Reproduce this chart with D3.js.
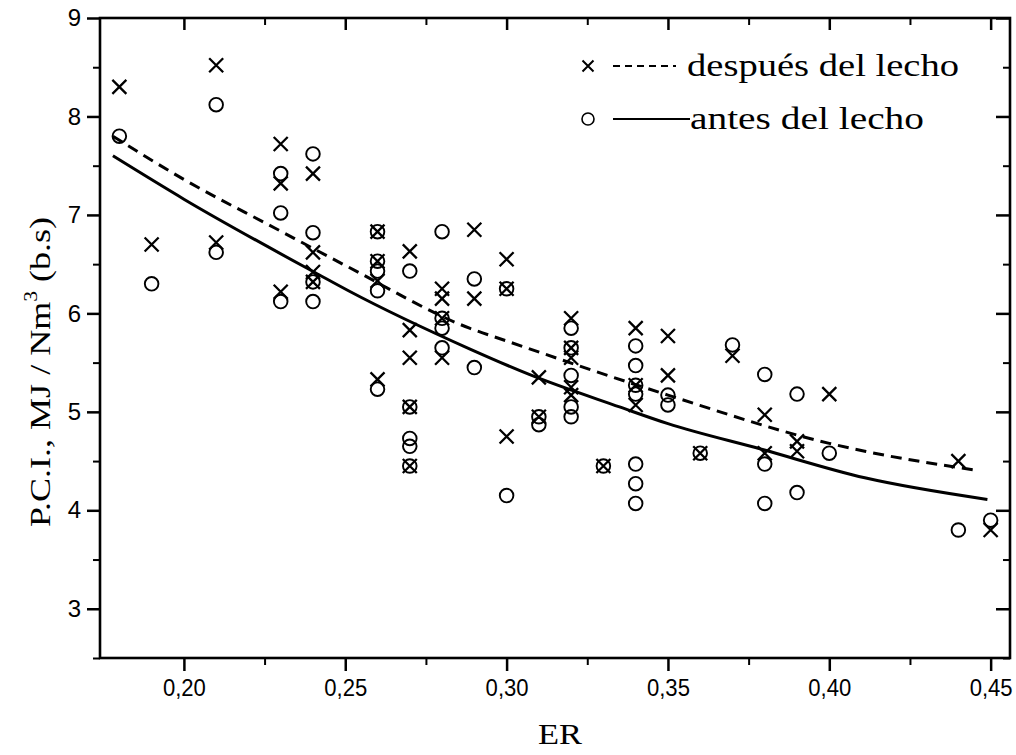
<!DOCTYPE html>
<html><head><meta charset="utf-8">
<script src="https://cdn.jsdelivr.net/npm/d3@7"></script>
<style>body{margin:0;background:#fff}svg{display:block}</style>
</head><body>
<svg id="chart" width="1016" height="755"></svg>
<script>
// ---- data ----
const xDespues = [0.18,0.19,0.21,0.21,0.23,0.23,0.23,0.24,0.24,0.24,0.24,0.26,0.26,0.26,0.26,0.27,0.27,0.27,0.27,0.27,0.28,0.28,0.28,0.28,0.29,0.29,0.30,0.30,0.30,0.31,0.31,0.32,0.32,0.32,0.32,0.32,0.33,0.34,0.34,0.34,0.35,0.35,0.36,0.37,0.38,0.38,0.39,0.39,0.40,0.44,0.45];
const yDespues = [8.30,6.70,8.52,6.72,7.72,7.32,6.22,7.42,6.62,6.42,6.32,6.83,6.53,6.33,5.33,6.63,5.83,5.55,5.05,4.45,6.25,6.15,5.95,5.55,6.85,6.15,6.55,6.25,4.75,5.35,4.95,5.95,5.65,5.55,5.25,5.17,4.45,5.85,5.27,5.07,5.77,5.37,4.58,5.57,4.97,4.58,4.70,4.60,5.18,4.50,3.80];
const xAntes = [0.18,0.19,0.21,0.21,0.23,0.23,0.23,0.24,0.24,0.24,0.24,0.26,0.26,0.26,0.26,0.26,0.27,0.27,0.27,0.27,0.27,0.28,0.28,0.28,0.28,0.29,0.29,0.30,0.30,0.31,0.31,0.32,0.32,0.32,0.32,0.32,0.33,0.34,0.34,0.34,0.34,0.34,0.34,0.34,0.35,0.35,0.36,0.37,0.38,0.38,0.38,0.39,0.39,0.40,0.44,0.45];
const yAntes = [7.80,6.30,8.12,6.62,7.42,7.02,6.12,7.62,6.82,6.32,6.12,6.83,6.53,6.43,6.23,5.23,6.43,5.05,4.73,4.65,4.45,6.83,5.95,5.85,5.65,6.35,5.45,6.25,4.15,4.95,4.87,5.85,5.65,5.37,5.05,4.95,4.45,5.67,5.47,5.27,5.18,4.47,4.27,4.07,5.17,5.07,4.58,5.68,5.38,4.47,4.07,5.18,4.18,4.58,3.80,3.90];
// fitted curves as drawn
const fitDespuesX = [0.178,0.20,0.228,0.251,0.2885,0.30,0.35,0.40,0.411,0.445];
const fitDespuesY = [7.80,7.36,6.87,6.47,5.85,5.72,5.17,4.68,4.60,4.41];
const fitAntesX = [0.178,0.20,0.242,0.251,0.2885,0.307,0.335,0.35,0.379,0.411,0.449];
const fitAntesY = [7.60,7.16,6.39,6.23,5.64,5.38,5.05,4.88,4.62,4.33,4.11];
const xMajor = [0.20,0.25,0.30,0.35,0.40,0.45];
const xMinor = [0.225,0.275,0.325,0.375,0.425];
const yMajor = [3,4,5,6,7,8,9];
const yMinor = [2.5,3.5,4.5,5.5,6.5,7.5,8.5];
const legendLabels = ["después del lecho","antes del lecho"];
const xTitle = "ER";

// ---- drawing ----
const svg = d3.select("#chart");
const L=100, R=1010, T=18, B=658;
const x = d3.scaleLinear().domain([0.174,0.456]).range([L,R]);
const y = d3.scaleLinear().domain([2.5,9]).range([B,T]);

function styleAxis(g, w){
  g.select(".domain").remove();
  g.selectAll(".tick line").attr("stroke","#000").attr("stroke-width",w);
  g.selectAll(".tick text").attr("fill","#000").attr("font-family","Liberation Sans, Arial, sans-serif").attr("font-size",24);
}
const fmt = d => d.toFixed(2).replace(".",",");
// bottom
svg.append("g").attr("transform",`translate(0,${B})`)
  .call(d3.axisBottom(x).tickValues(xMajor).tickSize(13).tickPadding(8).tickFormat(fmt))
  .call(g=>styleAxis(g,2.5))
  .call(g=>g.selectAll(".tick text").attr("textLength",43).attr("lengthAdjust","spacingAndGlyphs"));
svg.append("g").attr("transform",`translate(0,${B})`)
  .call(d3.axisBottom(x).tickValues(xMinor).tickSize(7).tickFormat(""))
  .call(g=>styleAxis(g,2));
// top (inward)
svg.append("g").attr("transform",`translate(0,${T})`)
  .call(d3.axisBottom(x).tickValues(xMajor).tickSize(12).tickFormat(""))
  .call(g=>styleAxis(g,2.5));
svg.append("g").attr("transform",`translate(0,${T})`)
  .call(d3.axisBottom(x).tickValues(xMinor).tickSize(7).tickFormat(""))
  .call(g=>styleAxis(g,2));
// left
svg.append("g").attr("transform",`translate(${L},0)`)
  .call(d3.axisLeft(y).tickValues(yMajor).tickSize(13).tickPadding(6).tickFormat(d3.format("d")))
  .call(g=>styleAxis(g,2.5));
svg.append("g").attr("transform",`translate(${L},0)`)
  .call(d3.axisLeft(y).tickValues(yMinor).tickSize(7).tickFormat(""))
  .call(g=>styleAxis(g,2));
// right (inward)
svg.append("g").attr("transform",`translate(${R},0)`)
  .call(d3.axisLeft(y).tickValues(yMajor).tickSize(14).tickFormat(""))
  .call(g=>styleAxis(g,2.5));
svg.append("g").attr("transform",`translate(${R},0)`)
  .call(d3.axisLeft(y).tickValues(yMinor).tickSize(7).tickFormat(""))
  .call(g=>styleAxis(g,2));
// frame
svg.append("rect").attr("x",L).attr("y",T).attr("width",R-L).attr("height",B-T)
  .attr("fill","none").attr("stroke","#000").attr("stroke-width",2.6);

// fit lines
const line = d3.line().curve(d3.curveMonotoneX);
svg.append("path").attr("d", line(fitDespuesX.map((v,i)=>[x(v),y(fitDespuesY[i])])))
  .attr("fill","none").attr("stroke","#000").attr("stroke-width",3).attr("stroke-dasharray","11,7");
svg.append("path").attr("d", line(fitAntesX.map((v,i)=>[x(v),y(fitAntesY[i])])))
  .attr("fill","none").attr("stroke","#000").attr("stroke-width",3);

// markers
const s = 7;
function cross(g, cx, cy, sz, w){
  g.append("path").attr("d",`M${cx-sz},${cy-sz}L${cx+sz},${cy+sz}M${cx-sz},${cy+sz}L${cx+sz},${cy-sz}`)
    .attr("stroke","#000").attr("stroke-width",w).attr("fill","none");
}
const gA = svg.append("g");
xAntes.forEach((v,i)=>{
  gA.append("circle").attr("cx",x(v)).attr("cy",y(yAntes[i])).attr("r",6.8)
    .attr("fill","none").attr("stroke","#000").attr("stroke-width",1.9);
});
const gD = svg.append("g");
xDespues.forEach((v,i)=> cross(gD, x(v), y(yDespues[i]), s, 2.3));

// legend
const lg = svg.append("g").attr("font-family","Liberation Serif, Times New Roman, serif").attr("font-size",31).attr("fill","#000");
cross(lg, 588, 66, 5.5, 2);
lg.append("line").attr("x1",613).attr("x2",676).attr("y1",66).attr("y2",66)
  .attr("stroke","#000").attr("stroke-width",2).attr("stroke-dasharray","7,5");
lg.append("text").attr("x",687).attr("y",76).attr("textLength",272).attr("lengthAdjust","spacingAndGlyphs").text(legendLabels[0]);
lg.append("circle").attr("cx",588).attr("cy",119).attr("r",6).attr("fill","none").attr("stroke","#000").attr("stroke-width",1.6);
lg.append("line").attr("x1",613).attr("x2",690).attr("y1",119).attr("y2",119)
  .attr("stroke","#000").attr("stroke-width",2.2);
lg.append("text").attr("x",690).attr("y",129).attr("textLength",234).attr("lengthAdjust","spacingAndGlyphs").text(legendLabels[1]);

// axis titles
svg.append("text").attr("x",560).attr("y",744).attr("text-anchor","middle")
  .attr("font-family","Liberation Serif, Times New Roman, serif").attr("font-size",29)
  .attr("textLength",44).attr("lengthAdjust","spacingAndGlyphs").text(xTitle);
const yt = svg.append("text").attr("transform","translate(50,527) rotate(-90)")
  .attr("font-family","Liberation Serif, Times New Roman, serif").attr("font-size",30)
  .attr("textLength",310).attr("lengthAdjust","spacingAndGlyphs");
yt.append("tspan").text("P.C.I., MJ / Nm");
yt.append("tspan").attr("font-size",18).attr("dy",-13).text("3");
yt.append("tspan").attr("dy",13).text(" (b.s)");
</script>
</body></html>
